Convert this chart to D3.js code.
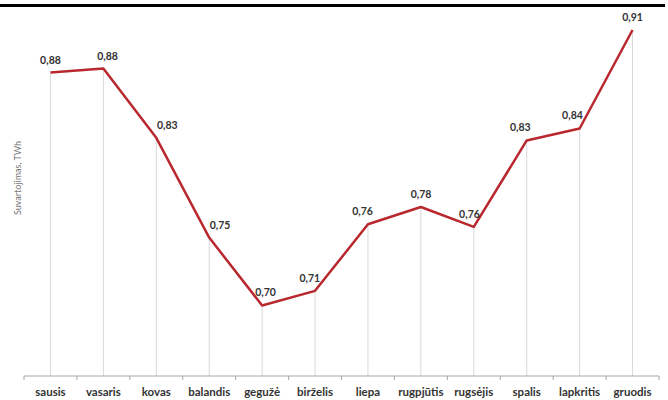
<!DOCTYPE html>
<html lang="lt">
<head>
<meta charset="UTF-8" />
<title>Suvartojimas, TWh</title>
<style>
    body, html { margin: 0; padding: 0; background: #fff; overflow: hidden; }
    svg { display: block; }
</style>
</head>
<body>
<svg width="668" height="400"></svg>
<script src="https://d3js.org/d3.v7.min.js"></script>
<script>
    // duomenys
    const months = ["sausis", "vasaris", "kovas", "balandis", "gegužė", "birželis",
                    "liepa", "rugpjūtis", "rugsėjis", "spalis", "lapkritis", "gruodis"];
    const consumption = [0.878, 0.881, 0.829, 0.754, 0.703, 0.714, 0.764, 0.777, 0.762, 0.827, 0.836, 0.910];
    const yTitle = "Suvartojimas, TWh";

    const svg = d3.select("svg");
    const left = 24, right = 659, axisY = 376;

    // viršutinė juoda linija
    svg.append("line")
        .attr("x1", 0).attr("x2", 665)
        .attr("y1", 5.5).attr("y2", 5.5)
        .attr("stroke", "#000").attr("stroke-width", 3);

    const x = d3.scaleBand().domain(months).range([left, right]);
    const y = d3.scaleLinear().domain([0.65, 0.91]).range([axisY, 30]);
    const cx = i => x(months[i]) + x.bandwidth() / 2;

    // vertikalios linijos iki ašies
    svg.append("g")
        .selectAll("line")
        .data(months)
        .join("line")
        .attr("x1", (d, i) => cx(i))
        .attr("x2", (d, i) => cx(i))
        .attr("y1", (d, i) => y(consumption[i]))
        .attr("y2", axisY)
        .attr("stroke", "#d9d9d9")
        .attr("stroke-width", 1);

    // x ašis
    const xAxis = svg.append("g").attr("transform", `translate(0,${axisY})`);
    xAxis.append("line")
        .attr("x1", left).attr("x2", right)
        .attr("stroke", "#a6a6a6").attr("stroke-width", 1);
    xAxis.selectAll("line.tick")
        .data(d3.range(months.length + 1))
        .join("line")
        .attr("class", "tick")
        .attr("x1", i => left + i * x.step())
        .attr("x2", i => left + i * x.step())
        .attr("y1", 0).attr("y2", 4)
        .attr("stroke", "#a6a6a6");
    xAxis.selectAll("text")
        .data(months)
        .join("text")
        .attr("x", (d, i) => cx(i))
        .attr("y", 20)
        .attr("text-anchor", "middle")
        .attr("font-family", "Lato, 'Open Sans', sans-serif")
        .attr("font-weight", "bold")
        .attr("font-size", "11.5px")
        .attr("fill", "#333")
        .text(d => d);

    // y ašies pavadinimas
    svg.append("text")
        .attr("transform", "translate(21,178) rotate(-90)")
        .attr("text-anchor", "middle")
        .attr("font-family", "Lato, 'Open Sans', sans-serif")
        .attr("font-size", "9px")
        .attr("fill", "#777")
        .text(yTitle);

    // linija
    const line = d3.line()
        .x((d, i) => cx(i))
        .y(d => y(d));

    svg.append("path")
        .datum(consumption)
        .attr("d", line)
        .attr("fill", "none")
        .attr("stroke", "#b8282e")
        .attr("stroke-width", 2.5)
        .attr("stroke-linejoin", "round");

    // etiketę pastumiam nuo linijos pusės, kuri kyla aukščiau
    function labelDx(i) {
        if (i === 0 || i === consumption.length - 1) return 0;
        const riseL = y(consumption[i]) - y(consumption[i - 1]);
        const riseR = y(consumption[i]) - y(consumption[i + 1]);
        return Math.max(-12, Math.min(12, (riseL - riseR) * 0.065));
    }

    // reikšmių etiketės
    const fmt = d3.format(".2f");
    svg.append("g")
        .selectAll("text")
        .data(consumption)
        .join("text")
        .attr("x", (d, i) => cx(i) + labelDx(i))
        .attr("y", d => y(d) - 9)
        .attr("text-anchor", "middle")
        .attr("font-family", "Lato, 'Open Sans', sans-serif")
        .attr("font-weight", "bold")
        .attr("font-size", "10.5px")
        .attr("fill", "#333")
        .text(d => fmt(d).replace(".", ","));
</script>
</body>
</html>
